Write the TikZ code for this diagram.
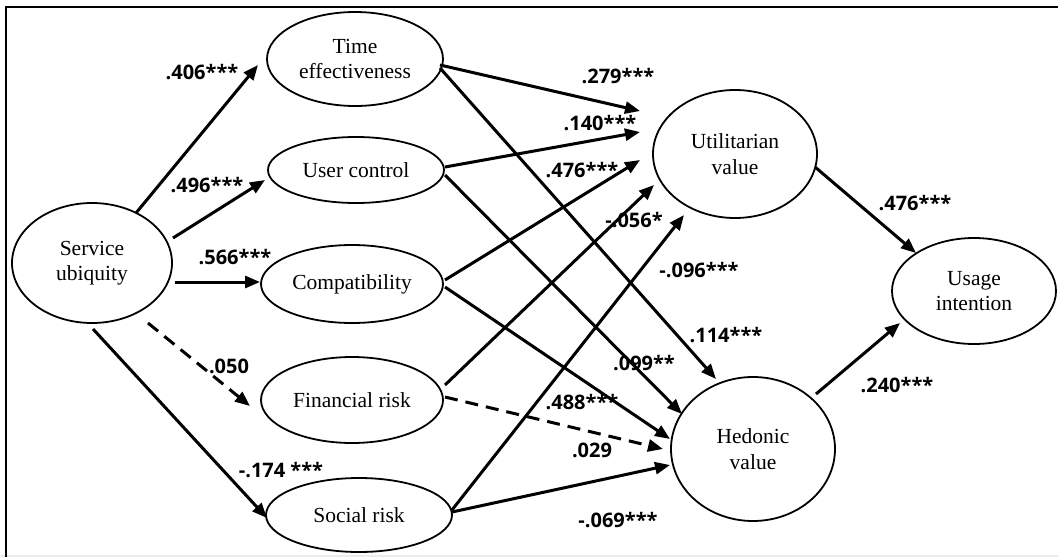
\documentclass[tikz,border=0pt]{standalone}
\usepackage{fontspec}
\setmainfont{Liberation Serif}
\newfontfamily\lblfont{Open Sans}
\usetikzlibrary{arrows.meta,shapes.geometric,calc}
\begin{document}
\begin{tikzpicture}[x=1pt,y=-1pt,
  construct/.style={draw,ellipse,line width=1.8pt,inner sep=0pt,align=center,
    font=\fontsize{21.5}{25.5}\selectfont},
  edgearrow/.style={line width=3pt,-{Triangle[length=15pt,width=12pt]}},
  dasharrow/.style={edgearrow,dash pattern=on 13pt off 8pt},
  coef/.style={inner sep=0pt,font=\lblfont\bfseries\fontsize{20}{22}\selectfont}]
\useasboundingbox (0,0) rectangle (1058,557);
\fill[gray!15] (0,555) rectangle (1058,557);
\draw[line width=2pt] (6,557) -- (6,6.5) -- (1058,6.5);

% constructs
\node[construct,minimum width=160pt,minimum height=120pt] (su) at (92,263) {Service\\ubiquity};
\node[construct,minimum width=176pt,minimum height=94pt] (time) at (355,59) {Time\\effectiveness};
\node[construct,minimum width=176pt,minimum height=66pt] (user) at (356,170) {User control};
\node[construct,minimum width=182pt,minimum height=78pt] (comp) at (352,284) {Compatibility};
\node[construct,minimum width=182pt,minimum height=86pt] (fin) at (352,400) {Financial risk};
\node[construct,minimum width=186pt,minimum height=74pt] (soc) at (359,515) {Social risk};
\node[construct,minimum width=164pt,minimum height=128pt] (util) at (735,154) {Utilitarian\\value};
\node[construct,minimum width=164pt,minimum height=144pt] (hed) at (753,449) {Hedonic\\value};
\node[construct,minimum width=164pt,minimum height=106pt] (use) at (974,291) {Usage\\intention};

% paths from service ubiquity
\draw[edgearrow] ($(su)+(44,-50)$) -- ($(time)+(-97,6)$);
\draw[edgearrow] ($(su)+(81,-25)$) -- ($(user)+(-91,10)$);
\draw[edgearrow] ($(su)+(83,19)$) -- ($(comp)+(-92,-2)$);
\draw[dasharrow] ($(su)+(56,60)$) -- ($(fin)+(-102,6)$);
\draw[edgearrow] ($(su)+(1,66)$) -- ($(soc)+(-92,3)$);

% paths to utilitarian / hedonic value
\draw[edgearrow] ($(time)+(85,6)$) -- ($(util)+(-95,-43)$);
\draw[edgearrow] ($(time)+(85,9)$) -- ($(hed)+(-37,-70)$);
\draw[edgearrow] ($(user)+(89,-3)$) -- ($(util)+(-95,-22)$);
\draw[edgearrow] ($(user)+(89,5)$) -- ($(hed)+(-71,-35)$);
\draw[edgearrow] ($(comp)+(93,-4)$) -- ($(util)+(-95,6)$);
\draw[edgearrow] ($(comp)+(93,3)$) -- ($(hed)+(-83,-10)$);
\draw[edgearrow] ($(fin)+(93,-15)$) -- ($(util)+(-81,31)$);
\draw[dasharrow] ($(fin)+(93,-3)$) -- ($(hed)+(-90,0)$);
\draw[edgearrow] ($(soc)+(93,-5)$) -- ($(util)+(-51,61)$);
\draw[edgearrow] ($(soc)+(93,-3)$) -- ($(hed)+(-83,16)$);

% paths to usage intention
\draw[edgearrow] ($(util)+(80,13)$) -- ($(use)+(-58,-38)$);
\draw[edgearrow] ($(hed)+(63,-55)$) -- ($(use)+(-74,32)$);

% coefficients
\node[coef] (l406) at (202,72) {.406***};
\node[coef] (l496) at (207,185) {.496***};
\node[coef] (l566) at (235,257) {.566***};
\node[coef] (l050) at (229,366) {.050};
\node[coef] (l174) at (281,470) {-.174 ***};
\node[coef] (l279) at (618,76) {.279***};
\node[coef] (l140) at (600,123) {.140***};
\node[coef] (l476a) at (582,170) {.476***};
\node[coef] (l056) at (634,220) {-.056*};
\node[coef] (l096) at (699,270) {-.096***};
\node[coef] (l114) at (726,335) {.114***};
\node[coef] (l099) at (644,363) {.099**};
\node[coef] (l488) at (582,402) {.488***};
\node[coef] (l029) at (592,450) {.029};
\node[coef] (l069) at (618,520) {-.069***};
\node[coef] (l476b) at (915,203) {.476***};
\node[coef] (l240) at (897,385) {.240***};
\end{tikzpicture}
\end{document}
